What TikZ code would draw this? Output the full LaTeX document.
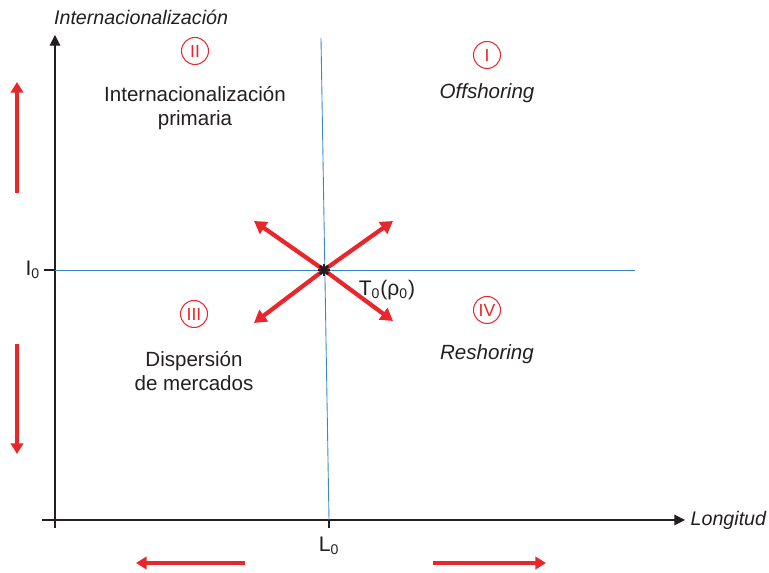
\documentclass[tikz,border=0pt]{standalone}
\usepackage{fontspec}
\setmainfont{Liberation Sans}
\usetikzlibrary{arrows.meta,positioning}
\definecolor{ink}{HTML}{231F20}
\definecolor{signal}{HTML}{E8262B}
\definecolor{axisblue}{HTML}{3A87C8}

\begin{document}
\begin{tikzpicture}[x=0.02cm,y=-0.02cm,
  axis/.style={ink,line width=0.6pt},
  guide/.style={axisblue,line width=0.5pt},
  movearrow/.style={signal,line width=2.3pt,-{Triangle[length=6pt,width=7pt]}},
  tilt/.style={signal,line width=2.4pt,-{Triangle[length=7pt,width=8pt]}},
  roman/.style={draw=signal,text=signal,circle,inner sep=0pt,minimum size=0.54cm,line width=0.6pt,font=\fontsize{10}{10}\selectfont},
  quad/.style={align=center,text=ink,font=\fontsize{11.7}{14}\selectfont},
  axlabel/.style={text=ink,font=\fontsize{11.2}{13}\itshape}]
  \useasboundingbox (0,0) rectangle (769,573);
  % axes
  \coordinate (O) at (55,520);
  \coordinate (ytop) at (55,35);
  \coordinate (xend) at (685,520);
  \draw[axis,-{Triangle[length=6pt,width=6pt]}] (55,528) -- (ytop);
  \draw[axis,-{Triangle[length=6pt,width=6pt]}] (42,520) -- (xend);
  \node[axlabel,anchor=south west,inner sep=1pt] (yname) at (52,27) {Internacionalización};
  \node[axlabel,anchor=west,inner sep=3pt] (xname) at (xend) {Longitud};
  % reference lines through T0
  \coordinate (T0) at (324,270);
  \coordinate (vtop) at (321,38);
  \coordinate (vbot) at (329,520);
  \coordinate (hend) at (635,270);
  \draw[guide] (vtop) -- (vbot);
  \draw[guide] (O |- T0) -- (hend);
  \draw[axis] (44,270) -- (O |- T0);
  \draw[axis] (vbot) -- (329,528);
  \node[text=ink,font=\fontsize{12}{12}\selectfont,anchor=east,inner sep=2pt] (I0) at (44,270) {I\textsubscript{0}};
  \node[text=ink,font=\fontsize{12}{12}\selectfont,below=0pt of vbot,yshift=-6pt] (L0) {L\textsubscript{0}};
  % red shifts out of T0
  \foreach \n/\x/\y in {nw/254/221,ne/393/221,sw/254/323,se/393/321}{
    \coordinate (\n) at (\x,\y);
    \draw[tilt] (T0) -- (\n);}
  \foreach \a in {0,45,90,135}
    \draw[ink,line width=1.6pt] (T0) ++(\a:6) -- ++(\a+180:12);
  \node[text=ink,font=\fontsize{12}{12}\selectfont] (Tname) at (387,290) {T\textsubscript{0}(ρ\textsubscript{0})};
  % quadrants
  \node[roman] (q2) at (195,51) {II};
  \node[roman] (q1) at (487,55) {I};
  \node[roman] (q3) at (194,314) {III};
  \node[roman] (q4) at (487,310) {IV};
  \node[quad] (prim) at (195,108) {Internacionalización\\primaria};
  \node[quad,font=\fontsize{11.7}{14}\itshape] (off) at (487,93) {Offshoring};
  \node[quad] (disp) at (194,371) {Dispersión\\de mercados};
  \node[quad,font=\fontsize{11.7}{14}\itshape] (res) at (487,354) {Reshoring};
  % side arrows
  \coordinate (up0) at (17,193);   \coordinate (up1) at (17,82);
  \coordinate (dn0) at (17,344);   \coordinate (dn1) at (17,454);
  \coordinate (lf0) at (245,563);  \coordinate (lf1) at (136,563);
  \coordinate (rt0) at (433,563);  \coordinate (rt1) at (546,563);
  \draw[movearrow] (up0) -- (up1);
  \draw[movearrow] (dn0) -- (dn1);
  \draw[movearrow] (lf0) -- (lf1);
  \draw[movearrow] (rt0) -- (rt1);
\end{tikzpicture}
\end{document}
